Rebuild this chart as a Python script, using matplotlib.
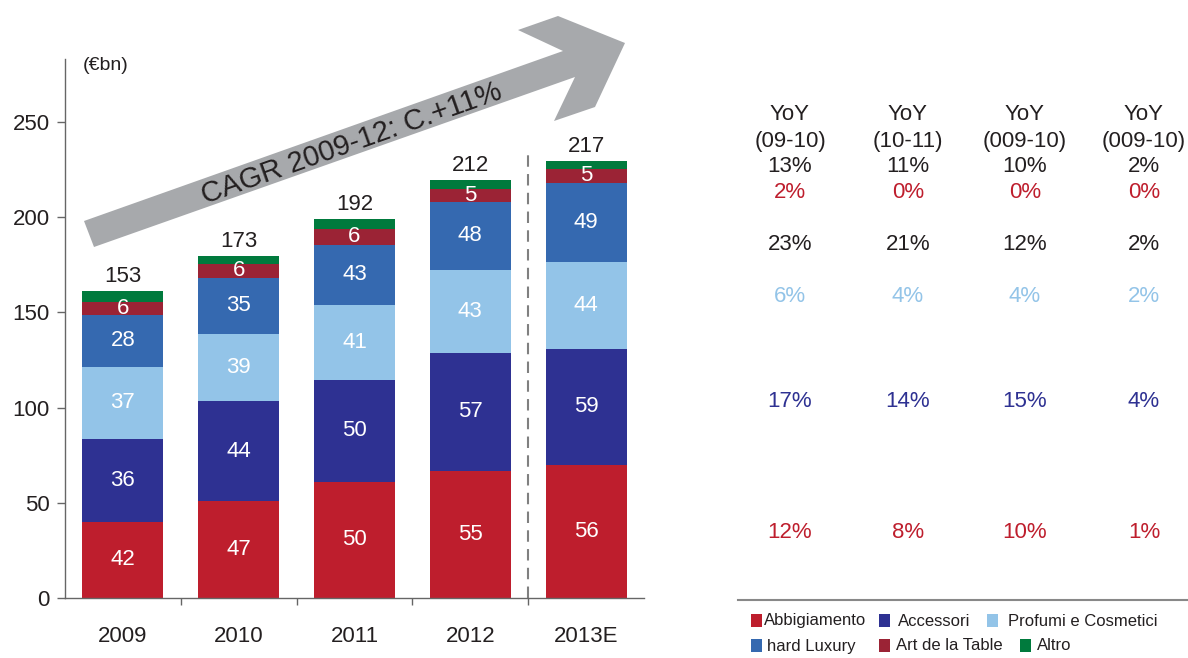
import matplotlib
matplotlib.use('Agg')
import matplotlib.pyplot as plt
from matplotlib.patches import Polygon, Rectangle
import numpy as np

plt.rcParams['font.family'] = ['Liberation Sans', 'DejaVu Sans']

years = ['2009', '2010', '2011', '2012', '2013E']
series = ['Abbigiamento', 'Accessori', 'Profumi e Cosmetici', 'hard Luxury', 'Art de la Table', 'Altro']
colors = ['#BE1E2D', '#2E3192', '#93C4E8', '#3569B0', '#9B2335', '#007A3D']

# segment heights as drawn in the picture (€bn)
abbigliamento = [40.1, 50.9, 61.1, 66.7, 69.9]
accessori = [43.4, 52.5, 53.4, 62.0, 60.9]
profumi = [37.8, 35.2, 39.4, 43.6, 45.7]
hard_luxury = [27.3, 29.6, 31.5, 35.7, 41.5]
art_table = [6.8, 7.4, 8.4, 6.8, 7.4]
altro = [5.8, 4.0, 5.3, 4.7, 4.2]

# values printed on the segments
lbl_abb = [42, 47, 50, 55, 56]
lbl_acc = [36, 44, 50, 57, 59]
lbl_prof = [37, 39, 41, 43, 44]
lbl_hard = [28, 35, 43, 48, 49]
lbl_art = [6, 6, 6, 5, 5]
totals = [153, 173, 192, 212, 217]

# YoY table
yoy_head = ['(09-10)', '(10-11)', '(009-10)', '(009-10)']
yoy_total = ['13%', '11%', '10%', '2%']
yoy_art = ['2%', '0%', '0%', '0%']
yoy_hard = ['23%', '21%', '12%', '2%']
yoy_prof = ['6%', '4%', '4%', '2%']
yoy_acc = ['17%', '14%', '15%', '4%']
yoy_abb = ['12%', '8%', '10%', '1%']

W, H = 1188, 658
fig = plt.figure(figsize=(W / 100, H / 100), dpi=100)
ax = fig.add_axes([65 / W, 1 - 598 / H, 579 / W, 539 / H])

x = np.arange(len(years))
stack = [abbigliamento, accessori, profumi, hard_luxury, art_table, altro]
labels = [lbl_abb, lbl_acc, lbl_prof, lbl_hard, lbl_art, None]
bottom = np.zeros(len(years))
for vals, lab, col in zip(stack, labels, colors):
    vals = np.array(vals)
    ax.bar(x, vals, 0.70, bottom=bottom, color=col, zorder=2)
    if lab is not None:
        for xi, b, v, t in zip(x, bottom, vals, lab):
            ax.text(xi, b + v / 2, str(t), ha='center', va='center',
                    color='white', fontsize=16, zorder=3)
    bottom = bottom + vals

for xi, top, t in zip(x, bottom, totals):
    ax.annotate(str(t), (xi, top), xytext=(0, 3), textcoords='offset points',
                ha='center', va='bottom', fontsize=16, color='#231F20')

ax.plot([3.5, 3.5], [0, 234], ls=(0, (5.5, 3.5)), color='#808080', lw=1.5, zorder=1)

ax.set_xlim(-0.5, 4.5)
ax.set_ylim(0, 283)
ax.set_yticks(range(0, 251, 50))
ax.set_xticks(x, years)
ax.set_xticks([0.5, 1.5, 2.5, 3.5], minor=True)
ax.tick_params(axis='x', which='major', length=0, pad=20, labelsize=16, labelcolor='#231F20')
ax.tick_params(axis='x', which='minor', length=5, color='#666666', width=1)
ax.tick_params(axis='y', length=6, color='#666666', width=1, pad=5, labelsize=16, labelcolor='#231F20')
for s in ['top', 'right']:
    ax.spines[s].set_visible(False)
for s in ['left', 'bottom']:
    ax.spines[s].set_color('#666666')
    ax.spines[s].set_linewidth(1)

fig.text(83 / W, 1 - 66 / H, '(€bn)', ha='left', va='center', fontsize=14, color='#231F20')

# growth arrow (pixel outline, y measured from top)
arrow_px = [(84, 221), (563, 51), (518, 30), (558, 16), (625, 43),
            (595, 107), (554, 121), (575, 77), (94, 247)]
arrow = Polygon([(px / W, 1 - py / H) for px, py in arrow_px], closed=True,
                transform=fig.transFigure, facecolor='#A7A9AC', edgecolor='none', zorder=5)
fig.add_artist(arrow)
fig.text(352 / W, 1 - 144 / H, 'CAGR 2009-12: C.+11%', rotation=19.5,
         rotation_mode='anchor', ha='center', va='center', fontsize=21,
         color='#231F20', zorder=6)

# YoY table on the right
col_x = [790, 908, 1025, 1144]
rows = [(['YoY'] * 4, 114, '#231F20'),
        (yoy_head, 142, '#231F20'),
        (yoy_total, 167, '#231F20'),
        (yoy_art, 192, '#BE1E2D'),
        (yoy_hard, 245, '#231F20'),
        (yoy_prof, 297, '#93C4E8'),
        (yoy_acc, 402, '#2E3192'),
        (yoy_abb, 532, '#BE1E2D')]
for texts, py, col in rows:
    for cx, t in zip(col_x, texts):
        fig.text(cx / W, 1 - py / H, t, ha='center', va='center', fontsize=16, color=col)

# legend below the table
fig.add_artist(plt.Line2D([738 / W, 1], [1 - 600 / H] * 2, transform=fig.transFigure,
                          color='#888888', lw=1.5))
legend_pos = [(751, 764, 621), (879, 898, 621), (987, 1008, 621),
              (751, 767, 646), (879, 896, 646), (1020, 1037, 646)]
for name, col, (sx, tx, py) in zip(series, colors, legend_pos):
    fig.add_artist(Rectangle((sx / W, 1 - (py + 6) / H), 11 / W, 13 / H,
                             transform=fig.transFigure, facecolor=col, edgecolor='none'))
    fig.text(tx / W, 1 - py / H, name, ha='left', va='center', fontsize=12, color='#231F20')

fig.savefig('out.png', dpi=100)
